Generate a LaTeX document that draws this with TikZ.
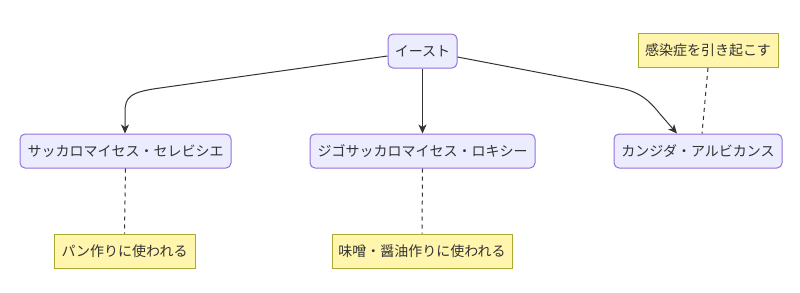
\documentclass[tikz,border=0pt]{standalone}
\usepackage{fontspec}
\setmainfont{Noto Sans CJK JP}
\usetikzlibrary{arrows.meta}
\definecolor{nodefill}{HTML}{ECECFF}
\definecolor{nodeline}{HTML}{9370DB}
\definecolor{notefill}{HTML}{FFF5AD}
\definecolor{noteline}{HTML}{AAAA33}
\definecolor{edgecol}{HTML}{333333}
\definecolor{txtcol}{HTML}{333333}
\tikzset{
  concept/.style={draw=nodeline, fill=nodefill, rounded corners=5pt, line width=1pt,
    minimum height=34pt, inner sep=0pt, text=txtcol, font=\fontsize{14}{16}\selectfont},
  notebox/.style={draw=noteline, fill=notefill, line width=1pt,
    minimum height=34pt, inner sep=0pt, text=txtcol, font=\fontsize{14}{16}\selectfont},
  edge/.style={draw=edgecol, line width=1pt, -{Stealth[length=9pt,width=8pt,inset=2.5pt]}},
  notelink/.style={draw=edgecol, line width=1pt, dash pattern=on 4pt off 4pt}
}
\begin{document}
\begin{tikzpicture}[x=1pt,y=-1pt]
\useasboundingbox (0,0) rectangle (800,292);
\node[concept, minimum width=69pt] (root) at (422.5,51) {イースト};
\node[concept, minimum width=211pt] (sc) at (125.5,151) {サッカロマイセス・セレビシエ};
\node[concept, minimum width=225pt] (zr) at (422.5,151) {ジゴサッカロマイセス・ロキシー};
\node[concept, minimum width=168pt] (ca) at (698,151) {カンジダ・アルビカンス};
\node[notebox, minimum width=140pt] (n3) at (708,50.5) {感染症を引き起こす};
\node[notebox, minimum width=141pt] (n1) at (124.5,251) {パン作りに使われる};
\node[notebox, minimum width=180pt] (n2) at (422,251) {味噌・醤油作りに使われる};
\coordinate (r1) at (root.west |- 0,56);
\coordinate (r3) at (root.east |- 0,57);
\coordinate (catop) at (677,0);
\draw[edge] (r1) -- (160,88) .. controls (130,92) and (125,97) .. (125,112) -- (sc.north -| 125,0);
\draw[edge] (root.south) -- (zr.north);
\draw[edge] (r3) -- (620,88) .. controls (642,92) and (652,104) .. (660,114) -- (ca.north -| catop);
\draw[notelink] (sc.south) -- (n1.north);
\draw[notelink] (zr.south) -- (n2.north);
\draw[notelink] (n3.south) -- (ca.north -| 702,0);
\end{tikzpicture}
\end{document}
